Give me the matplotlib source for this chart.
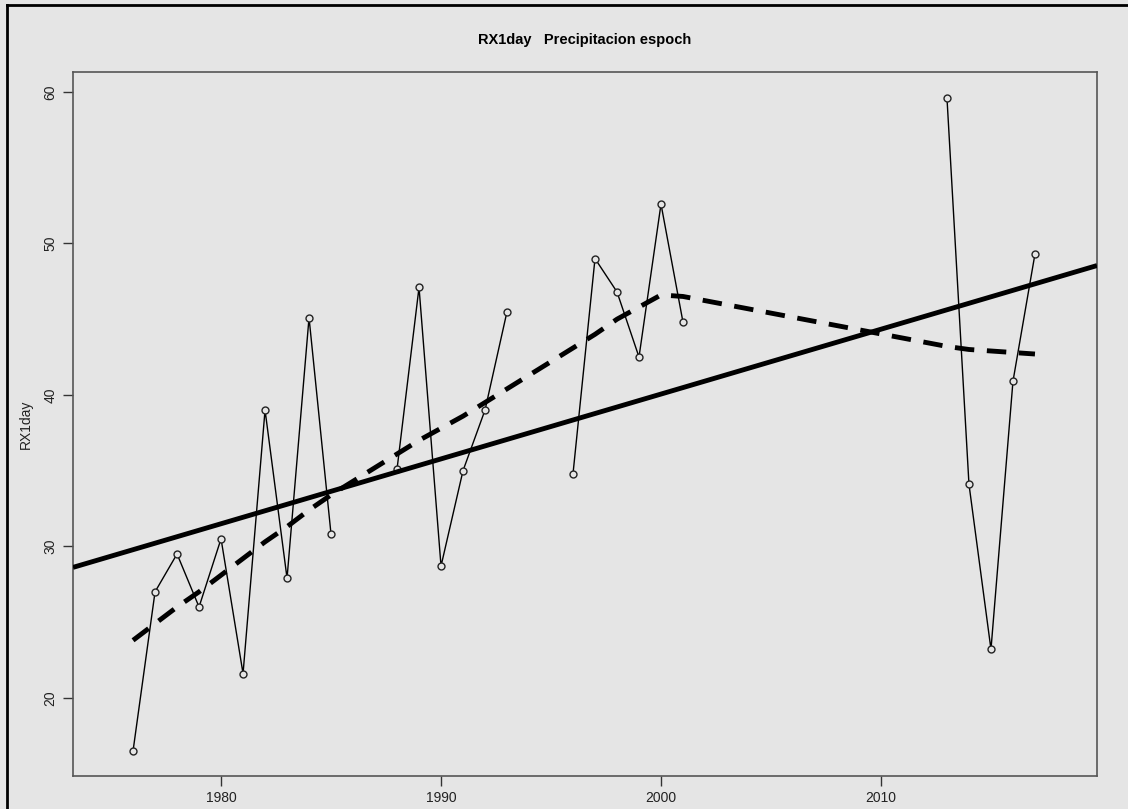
import numpy as np
import matplotlib
matplotlib.use("Agg")
import matplotlib.pyplot as plt
from matplotlib.lines import Line2D

# Annual maximum 1-day precipitation (RX1day), station espoch
years = [1976, 1977, 1978, 1979, 1980, 1981, 1982, 1983, 1984, 1985,
         1988, 1989, 1990, 1991, 1992, 1993,
         1996, 1997, 1998, 1999, 2000, 2001,
         2013, 2014, 2015, 2016, 2017]
rx1day = [16.5, 27.0, 29.5, 26.0, 30.5, 21.6, 39.0, 27.9, 45.1, 30.8,
          35.1, 47.1, 28.7, 35.0, 39.0, 45.5,
          34.8, 49.0, 46.8, 42.5, 52.6, 44.8,
          59.6, 34.1, 23.2, 40.9, 49.3]

# Smoothed curve (lowess) at the same years
smooth = [23.8, 24.9, 26.0, 27.0, 28.1, 29.2, 30.3, 31.3, 32.4, 33.4,
          36.1, 37.0, 37.8, 38.6, 39.5, 40.4,
          43.1, 44.0, 45.0, 45.8, 46.6, 46.5,
          43.2, 43.0, 42.9, 42.8, 42.7]

# full year grid so the missing years break the line
all_years = np.arange(1976, 2018)
series = np.full(all_years.shape, np.nan)
for yr, v in zip(years, rx1day):
    series[yr - 1976] = v

bg = "#e5e5e5"
plt.rcParams["font.family"] = ["Liberation Sans", "DejaVu Sans"]

fig = plt.figure(figsize=(11.28, 8.09), dpi=100, facecolor=bg)
ax = fig.add_axes([73 / 1128, 33 / 809, 1024 / 1128, 704 / 809], facecolor=bg)

ax.plot(all_years, series, color="black", lw=1.0, zorder=2)
ax.plot(years, rx1day, ls="none", marker="o", ms=5, mfc=bg, mec="#222222",
        mew=1.0, zorder=3)

# least squares trend, drawn across the full plot width
slope, intercept = np.polyfit(years, rx1day, 1)
xl = np.array([1973.27, 2019.82])
ax.plot(xl, intercept + slope * xl, color="black", lw=3.5, zorder=4,
        solid_capstyle="butt")

ax.plot(years, smooth, color="black", lw=3.5, ls=(0, (4, 2.6)), zorder=4)

ax.set_xlim(1973.27, 2019.82)
ax.set_ylim(14.84, 61.32)
ax.set_xticks([1980, 1990, 2000, 2010])
ax.set_yticks([20, 30, 40, 50, 60])
for s in ax.spines.values():
    s.set_color("#555555")
    s.set_linewidth(1.2)
ax.tick_params(axis="both", length=7, width=1.0, color="#333333",
               labelsize=10, labelcolor="#222222")
ax.tick_params(axis="x", pad=4)
ax.tick_params(axis="y", pad=4)
for lab in ax.get_yticklabels():
    lab.set_rotation(90)
    lab.set_va("center")

ax.set_ylabel("RX1day", fontsize=10, color="#222222", labelpad=8)
fig.text(585 / 1128, 1 - 40 / 809, "RX1day   Precipitacion espoch",
         ha="center", va="center", fontsize=10.5, fontweight="bold")

# dark frame along the left and top edges of the image
fig.add_artist(Line2D([7 / 1128, 7 / 1128], [0, 1 - 5 / 809],
                      transform=fig.transFigure, color="black", lw=2))
fig.add_artist(Line2D([7 / 1128, 1], [1 - 5 / 809, 1 - 5 / 809],
                      transform=fig.transFigure, color="black", lw=2))

fig.savefig("out.png", dpi=100, facecolor=bg)
